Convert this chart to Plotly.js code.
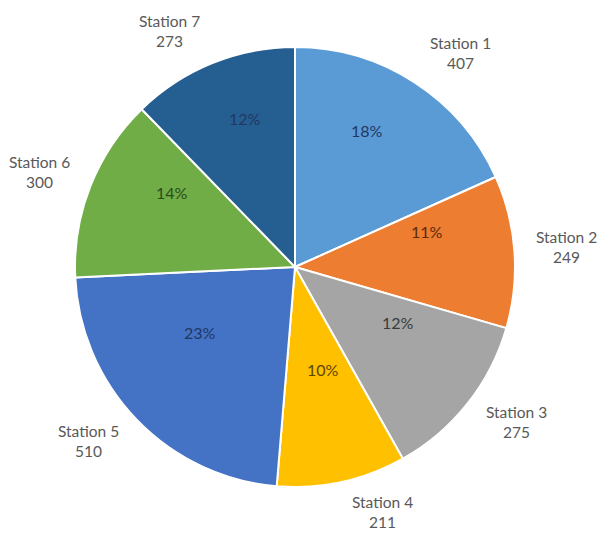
<!DOCTYPE html>
<html>
<head>
<meta charset="utf-8">
<script src="https://cdn.plot.ly/plotly-3.0.1.min.js"></script>
<style>html,body{margin:0;padding:0;background:#fff;}#chart{width:602px;height:534px;}</style>
</head>
<body>
<div id="chart"></div>
<script>
// Data
const stations = ["Station 1", "Station 2", "Station 3", "Station 4", "Station 5", "Station 6", "Station 7"];
const counts = [407, 249, 275, 211, 510, 300, 273];
const pctLabels = ["18%", "11%", "12%", "10%", "23%", "14%", "12%"];

// Styles
const sliceColors = ["#5B9BD5", "#ED7D31", "#A5A5A5", "#FFC000", "#4472C4", "#70AD47", "#255E91"];
const pctColors = ["#1F3864", "#5A2A0C", "#3A3A3A", "#5C4500", "#1F3864", "#2D4A1B", "#1F3864"];
const FONT = "Lato, 'Open Sans', sans-serif";

const W = 602, H = 534;
const cx = 295, cy = 267, R = 220;

const trace = {
  type: "pie",
  labels: stations,
  values: counts,
  textinfo: "none",
  marker: {colors: sliceColors, line: {color: "#ffffff", width: 2}},
  direction: "clockwise",
  rotation: 0,
  sort: false,
  hoverinfo: "none",
  showlegend: false,
  domain: {x: [(cx - R) / W, (cx + R) / W], y: [(H - cy - R) / H, (H - cy + R) / H]}
};

// Labels placed from each slice's mid angle (computed from the data)
const total = counts.reduce((a, b) => a + b, 0);
const annotations = [];
let cum = 0;
counts.forEach((v, i) => {
  const mid = (cum + v / 2) / total * 2 * Math.PI;
  cum += v;
  const s = Math.sin(mid), c = Math.cos(mid);
  // outside category / value label
  const ox = cx + 234 * s + 38 * Math.sign(s);
  const oy = cy - 253 * c - 2;
  annotations.push({
    x: ox / W, y: 1 - oy / H, xref: "paper", yref: "paper",
    xanchor: "center", yanchor: "middle", showarrow: false, align: "center",
    borderpad: 0,
    text: stations[i] + "<br>" + counts[i],
    font: {family: FONT, size: 15.5, color: "#595959"}
  });
  // inside percentage label
  const ix = cx + 0.6 * R * s;
  const iy = cy - 0.6 * R * c - 26;
  annotations.push({
    x: ix / W, y: 1 - iy / H, xref: "paper", yref: "paper",
    xanchor: "center", yanchor: "middle", showarrow: false,
    text: pctLabels[i],
    font: {family: FONT, size: 16, color: pctColors[i]}
  });
});

const layout = {
  width: W, height: H,
  margin: {l: 0, r: 0, t: 0, b: 0},
  paper_bgcolor: "#ffffff",
  plot_bgcolor: "#ffffff",
  annotations: annotations,
  showlegend: false
};

Plotly.newPlot("chart", [trace], layout, {displayModeBar: false, staticPlot: true});
</script>
</body>
</html>
